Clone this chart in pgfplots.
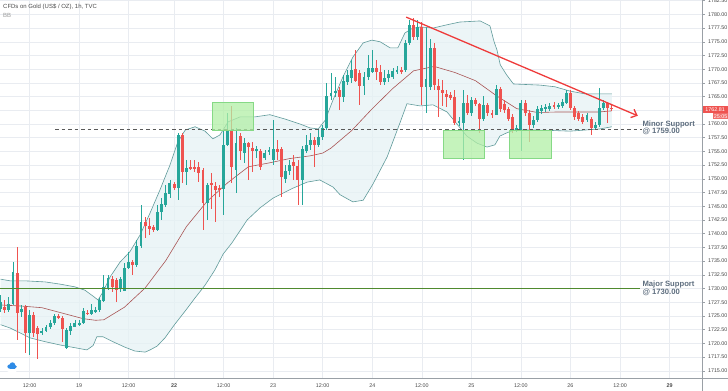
\documentclass[border=0pt]{standalone}
\usepackage{pgfplots}
\pgfplotsset{compat=1.18}
\usepackage{pgfplotstable}
\usepgfplotslibrary{fillbetween}
\usetikzlibrary{arrows.meta}
\usepackage{fontspec}
\setmainfont{Liberation Sans}
\definecolor{upc}{HTML}{26A69A}
\definecolor{downc}{HTML}{EF5350}
\definecolor{bandc}{HTML}{5F9A9A}
\definecolor{midc}{HTML}{A85454}
\definecolor{bandfill}{HTML}{E6F2F4}
\definecolor{gridc}{HTML}{E9ECF1}
\definecolor{axisc}{HTML}{9AA0A6}
\definecolor{labc}{HTML}{4A4A4A}
\definecolor{supc}{HTML}{5D6D7E}
\definecolor{majc}{HTML}{4F8A2E}
\definecolor{trendc}{HTML}{EE3B3B}
\definecolor{boxg}{HTML}{B2EFA6}
\definecolor{boxgb}{HTML}{86D986}
\definecolor{tvblue}{HTML}{2E8BE6}

\pgfplotstableread{
i o h l c
0 1726.3 1728.8 1725.7 1727.5
1 1726.7 1727.9 1725.5 1726.0
2 1726.1 1728.5 1725.7 1727.2
3 1727.2 1734.9 1727.0 1733.1
4 1732.8 1737.6 1720.6 1725.6
5 1725.7 1727.0 1724.8 1726.3
6 1726.6 1727.0 1718.2 1721.9
7 1721.9 1726.1 1717.9 1725.2
8 1725.2 1725.7 1721.2 1721.9
9 1722.8 1723.2 1717.2 1721.7
10 1721.8 1722.8 1721.5 1722.3
11 1722.3 1723.3 1722.1 1723.0
12 1722.9 1724.3 1722.6 1723.8
13 1723.8 1725.4 1723.3 1725.0
14 1725.0 1725.4 1724.5 1724.7
15 1724.6 1725.0 1720.3 1722.7
16 1719.1 1722.8 1718.9 1722.4
17 1722.3 1723.7 1721.5 1723.2
18 1723.0 1724.3 1722.9 1723.7
19 1723.4 1724.3 1723.2 1723.8
20 1723.7 1726.5 1723.5 1725.9
21 1725.6 1726.1 1725.2 1725.3
22 1725.3 1727.2 1725.2 1726.0
23 1725.8 1726.6 1725.6 1726.1
24 1726.0 1728.3 1725.8 1727.9
25 1727.7 1732.5 1727.6 1730.2
26 1730.0 1732.5 1729.7 1731.9
27 1731.7 1732.2 1729.4 1730.2
28 1731.5 1731.9 1727.6 1729.7
29 1729.9 1732.1 1729.4 1731.7
30 1729.6 1734.6 1729.5 1733.8
31 1733.7 1736.7 1733.6 1734.9
32 1734.9 1735.2 1732.5 1734.3
33 1734.3 1738.9 1734.0 1737.8
34 1737.7 1745.2 1737.4 1742.2
35 1742.1 1743.1 1739.2 1741.4
36 1741.4 1742.9 1739.8 1740.8
37 1741.2 1741.6 1740.3 1740.7
38 1740.7 1745.2 1740.4 1744.0
39 1743.9 1746.5 1742.5 1745.4
40 1745.2 1748.9 1744.9 1747.4
41 1747.2 1749.8 1746.5 1749.3
42 1749.0 1749.5 1748.0 1748.4
43 1748.4 1758.3 1746.1 1758.0
44 1758.0 1758.3 1749.2 1751.3
45 1751.2 1753.4 1748.9 1751.9
46 1752.2 1753.4 1751.6 1751.9
47 1752.2 1753.4 1751.3 1751.9
48 1752.2 1753.1 1749.5 1751.0
49 1751.6 1752.0 1740.7 1745.6
50 1745.6 1749.2 1742.5 1748.9
51 1749.2 1751.0 1744.6 1748.9
52 1748.7 1749.5 1742.2 1748.0
53 1748.3 1748.9 1746.7 1748.0
54 1748.1 1758.9 1743.4 1756.2
55 1756.2 1762.0 1756.0 1759.0
56 1759.0 1763.3 1749.2 1752.2
57 1751.7 1759.2 1747.4 1756.6
58 1757.8 1758.3 1753.4 1755.0
59 1754.7 1757.4 1752.8 1756.5
60 1756.5 1756.8 1749.8 1755.8
61 1755.6 1756.8 1751.3 1755.1
62 1755.0 1756.0 1753.8 1755.4
63 1755.0 1755.5 1751.6 1752.2
64 1753.9 1755.3 1753.4 1754.7
65 1754.9 1755.8 1754.4 1755.3
66 1753.4 1760.7 1752.5 1755.4
67 1755.4 1757.1 1753.4 1754.9
68 1755.4 1755.8 1746.7 1750.3
69 1749.9 1752.5 1749.2 1751.5
70 1751.5 1753.4 1750.7 1752.5
71 1753.1 1754.4 1749.8 1752.3
72 1752.3 1753.4 1745.2 1749.8
73 1749.8 1756.0 1745.2 1755.4
74 1755.1 1758.0 1754.7 1756.2
75 1756.2 1758.4 1755.3 1757.1
76 1757.1 1757.6 1752.2 1756.2
77 1756.2 1758.9 1755.8 1757.6
78 1757.7 1759.8 1757.1 1759.2
79 1759.2 1767.5 1758.9 1765.1
80 1765.1 1769.3 1764.4 1765.7
81 1765.6 1768.6 1764.9 1766.0
82 1766.2 1766.8 1762.6 1764.9
83 1765.0 1768.9 1764.0 1767.9
84 1767.7 1769.9 1767.1 1768.9
85 1768.4 1771.7 1767.5 1769.9
86 1770.0 1773.5 1767.7 1767.9
87 1769.4 1769.9 1763.5 1766.9
88 1766.9 1769.5 1765.3 1768.6
89 1768.5 1772.6 1768.0 1770.2
90 1769.5 1773.5 1769.3 1770.2
91 1770.2 1771.7 1768.0 1769.5
92 1769.5 1770.8 1767.1 1767.7
93 1767.7 1769.9 1767.1 1768.4
94 1768.4 1769.9 1767.7 1769.1
95 1768.6 1770.2 1768.2 1769.7
96 1769.5 1770.6 1769.1 1769.9
97 1769.9 1770.4 1769.1 1769.5
98 1769.9 1775.3 1769.5 1774.7
99 1774.7 1779.0 1774.4 1778.1
100 1778.1 1779.3 1775.3 1775.9
101 1775.9 1779.0 1775.3 1777.7
102 1777.7 1778.6 1763.5 1766.7
103 1766.7 1777.5 1762.0 1768.3
104 1766.8 1775.6 1766.2 1773.8
105 1773.8 1774.7 1766.2 1767.1
106 1766.9 1768.3 1761.3 1766.3
107 1766.2 1768.0 1763.2 1765.6
108 1765.5 1766.2 1763.1 1764.9
109 1765.3 1765.8 1764.4 1764.7
110 1764.9 1766.2 1759.8 1760.1
111 1760.1 1761.3 1759.6 1760.6
112 1760.2 1766.2 1753.4 1763.9
113 1763.9 1765.3 1761.6 1762.0
114 1762.0 1764.9 1761.5 1764.3
115 1764.3 1764.7 1763.3 1763.7
116 1763.7 1763.8 1758.3 1761.0
117 1761.0 1765.1 1760.6 1763.5
118 1763.5 1763.8 1761.5 1762.0
119 1762.0 1762.6 1761.1 1761.6
120 1761.6 1767.1 1761.6 1766.3
121 1766.3 1766.8 1762.2 1762.7
122 1763.6 1764.3 1762.0 1762.6
123 1762.7 1763.1 1760.6 1761.0
124 1761.3 1761.8 1758.4 1759.0
125 1758.9 1759.8 1758.5 1759.2
126 1759.0 1764.4 1755.0 1763.9
127 1763.9 1764.4 1761.5 1762.0
128 1762.0 1762.6 1756.8 1759.8
129 1759.8 1761.5 1759.3 1760.7
130 1760.7 1763.3 1760.4 1762.7
131 1762.3 1763.5 1761.8 1762.9
132 1762.7 1763.7 1762.2 1763.1
133 1762.7 1763.8 1762.4 1763.3
134 1763.5 1764.0 1762.7 1763.2
135 1763.2 1763.8 1762.8 1763.5
136 1763.3 1764.6 1762.9 1764.1
137 1763.9 1766.2 1763.7 1765.7
138 1765.7 1766.2 1762.6 1762.9
139 1762.9 1763.3 1760.7 1761.2
140 1762.0 1762.4 1760.6 1761.0
141 1761.3 1761.8 1760.0 1760.4
142 1760.7 1762.0 1760.4 1761.6
143 1760.9 1761.3 1758.0 1759.3
144 1759.3 1760.3 1759.0 1759.8
145 1759.8 1766.5 1759.5 1763.0
146 1763.0 1764.4 1762.6 1763.9
147 1763.9 1764.1 1760.2 1763.0
148 1763.0 1763.6 1762.4 1762.8
}\candles

\begin{document}
\begin{tikzpicture}
\begin{axis}[
  set layers,
  width=702bp, height=378bp, scale only axis,
  xmin=-0.15, xmax=169.85, ymin=1713.68, ymax=1782.62,
  clip=false,
  axis line style={draw=none},
  xtick={7,19,31,42,54,66,78,90,102,114,126,138,150,162},
  xticklabels={12:00,19,12:00,\textbf{22},12:00,23,12:00,24,12:00,25,12:00,26,12:00,\textbf{29}},
  ytick={1715,1717.5,1720,1722.5,1725,1727.5,1730,1732.5,1735,1737.5,1740,1742.5,1745,1747.5,1750,1752.5,1755,1757.5,1760,1765,1767.5,1770,1772.5,1775,1777.5,1780,1782.5},
  extra y ticks={1762.5}, extra y tick labels={},
  yticklabel pos=right, ytick pos=right,
  tick align=outside,
  major tick length=2.5bp,
  xtick style={draw=none},
  ytick style={draw=axisc, line width=0.5bp},
  grid=major, grid style={draw=gridc, line width=0.5bp},
  extra y tick style={grid=major, grid style={draw=gridc, line width=0.5bp}},
  scaled y ticks=false,
  yticklabel style={font=\fontsize{5.4}{6}\selectfont, text=labc, /pgf/number format/.cd, fixed, fixed zerofill, precision=2, 1000 sep={}, assume math mode=true},
  xticklabel style={font=\fontsize{5.4}{6}\selectfont, text=labc},
]
\coordinate (bl) at (rel axis cs:0,0);
\coordinate (tr) at (rel axis cs:1,1);

% Bollinger bands
\addplot[name path=up, draw=bandc, line width=0.6bp, forget plot] coordinates {
(0,1731.7) (2.3,1731.4) (5.9,1731.4) (10.8,1731.2) (14.4,1730.8) (18.0,1730.3) (20.4,1729.7) (22.4,1728.6) (23.6,1727.9) (24.8,1729.4) (26.5,1732.1) (28.9,1734.8) (31.3,1736.7) (33.8,1739.8) (36.2,1743.8) (38.6,1748.0) (41.0,1752.5) (42.9,1756.7) (44.7,1758.9) (47.1,1759.5) (49.5,1758.7) (51.4,1757.3) (53.1,1758.0) (55.1,1760.4) (58.0,1761.3) (61.6,1761.3) (65.2,1761.7) (68.9,1760.9) (72.5,1760.0) (74.9,1759.3) (76.9,1759.1) (78.6,1760.7) (80.5,1764.4) (82.9,1768.6) (85.3,1772.2) (87.8,1774.8) (89.9,1775.3) (91.9,1775.0) (94.3,1773.9) (96.2,1773.9) (97.9,1776.6) (99.6,1777.4) (101.6,1777.7) (104.7,1777.5) (108.1,1778.1) (111.2,1778.6) (116.1,1778.8) (118.5,1777.9) (119.5,1775.0) (120.2,1773.5) (121.0,1770.8) (122.5,1769.0) (124.2,1767.3) (130.6,1767.1) (134.2,1766.8) (137.9,1766.0) (141.5,1765.5) (148.0,1765.5)
};
\addplot[name path=lo, draw=bandc, line width=0.6bp, forget plot] coordinates {
(0,1723.4) (2.3,1722.8) (4.7,1721.9) (7.1,1721.0) (10.8,1720.3) (14.4,1719.7) (18.0,1719.2) (20.9,1718.8) (22.4,1719.6) (23.3,1721.2) (24.8,1721.2) (27.2,1720.3) (30.1,1719.3) (32.5,1718.6) (35.0,1718.4) (36.2,1718.8) (37.9,1719.5) (39.8,1721.0) (42.2,1723.5) (44.7,1725.9) (47.1,1728.3) (49.5,1730.6) (51.9,1733.4) (53.9,1736.3) (56.0,1738.3) (59.7,1742.5) (62.8,1744.7) (66.0,1746.5) (70.8,1748.3) (74.2,1749.4) (77.3,1749.8) (80.5,1748.5) (82.2,1747.1) (85.3,1745.8) (87.8,1746.1) (90.2,1749.1) (93.6,1754.0) (96.7,1760.2) (98.4,1763.7) (101.6,1763.3) (104.7,1763.5) (108.1,1762.2) (110.5,1760.0) (112.9,1757.8) (115.4,1756.5) (117.8,1755.8) (119.7,1756.2) (120.9,1757.8) (122.6,1758.4) (124.5,1758.9) (130.6,1758.9) (137.9,1758.7) (145.1,1759.1) (148.0,1759.5)
};
\addplot[fill=bandfill, fill opacity=0.75, draw=none, forget plot] fill between[of=up and lo];
\addplot[draw=midc, line width=0.6bp, forget plot] coordinates {
(0,1727.0) (5,1726.8) (10,1726.5) (15,1725.5) (20,1724.5) (23,1724.2) (25,1724.3) (30,1726.6) (35,1730.1) (40,1735.1) (45,1741.3) (50,1745.9) (55,1749.3) (60,1752.2) (65,1752.9) (70,1753.7) (75,1754.2) (78,1754.7) (80,1755.6) (85,1758.8) (90,1762.8) (95,1766.5) (100,1769.7) (105,1770.5) (110,1769.4) (115,1767.9) (120,1765.2) (125,1762.8) (130,1762.1) (135,1762.2) (140,1762.2) (145,1762.2) (148,1762.4)
};

% candles: wicks and bodies
\addplot[draw=none, mark=none, forget plot,
  restrict expr to domain={\thisrow{c}-\thisrow{o}}{0.00001:1000},
  error bars/.cd, y dir=both, y explicit, error mark=none,
  error bar style={draw=upc, line width=0.8bp}]
  table[x=i, y expr={(\thisrow{h}+\thisrow{l})/2}, y error expr={(\thisrow{h}-\thisrow{l})/2}]{\candles};
\addplot[draw=none, mark=none, forget plot,
  restrict expr to domain={\thisrow{c}-\thisrow{o}}{-1000:0},
  error bars/.cd, y dir=both, y explicit, error mark=none,
  error bar style={draw=downc, line width=0.8bp}]
  table[x=i, y expr={(\thisrow{h}+\thisrow{l})/2}, y error expr={(\thisrow{h}-\thisrow{l})/2}]{\candles};
\addplot[draw=none, mark=none, forget plot,
  restrict expr to domain={\thisrow{c}-\thisrow{o}}{0.00001:1000},
  error bars/.cd, y dir=both, y explicit, error mark=none,
  error bar style={draw=upc, line width=2.9bp}]
  table[x=i, y expr={(\thisrow{o}+\thisrow{c})/2}, y error expr={max(abs(\thisrow{c}-\thisrow{o})/2,0.09)}]{\candles};
\addplot[draw=none, mark=none, forget plot,
  restrict expr to domain={\thisrow{c}-\thisrow{o}}{-1000:0},
  error bars/.cd, y dir=both, y explicit, error mark=none,
  error bar style={draw=downc, line width=2.9bp}]
  table[x=i, y expr={(\thisrow{o}+\thisrow{c})/2}, y error expr={max(abs(\thisrow{c}-\thisrow{o})/2,0.09)}]{\candles};

% support lines
\draw[majc, line width=1bp] (axis cs:-0.15,1730) -- (axis cs:154.8,1730);
\draw[black!65, line width=0.8bp, dash pattern=on 3.5bp off 3bp] (axis cs:13.2,1759) -- (axis cs:155.3,1759);

% green zones
\filldraw[fill=boxg, draw=boxgb, fill opacity=0.75, line width=0.5bp] (axis cs:51.2,1758.9) rectangle (axis cs:61.1,1764.0);
\filldraw[fill=boxg, draw=boxgb, fill opacity=0.75, line width=0.5bp] (axis cs:107.1,1753.75) rectangle (axis cs:117.0,1758.8);
\filldraw[fill=boxg, draw=boxgb, fill opacity=0.75, line width=0.5bp] (axis cs:123.1,1753.7) rectangle (axis cs:133.3,1758.9);

% trend line
\draw[trendc, line width=1.3bp, -{Straight Barb[length=5bp,width=9bp]}] (axis cs:98.2,1779.5) -- (axis cs:154.3,1761.5);

% labels
\node[anchor=west, inner sep=0, align=left, text=supc, font=\bfseries\fontsize{7.7}{7.8}\selectfont] at (axis cs:155.4,1759.3) {Minor Support\\@ 1759.00};
\node[anchor=west, inner sep=0, align=left, text=supc, font=\bfseries\fontsize{7.7}{7.8}\selectfont] at (axis cs:155.4,1730.0) {Major Support\\@ 1730.00};

\node[anchor=north west, inner sep=0, xshift=3bp, yshift=-4bp, text=labc, font=\fontsize{6}{7}\selectfont] at (rel axis cs:0,1) {CFDs on Gold (US\$ / OZ), 1h, TVC};
\node[anchor=north west, inner sep=0, xshift=3bp, yshift=-13.5bp, text=black!40, font=\fontsize{6}{7}\selectfont] at (rel axis cs:0,1) {BB};

% price boxes
\node[fill=downc, text=white, anchor=west, inner xsep=1.5bp, inner ysep=0.8bp, minimum width=26bp, minimum height=6.8bp, font=\fontsize{5.4}{6}\selectfont] (pb) at (axis cs:169.85,1762.7) {1762.81};
\node[fill=downc!85!white, text=white, anchor=north east, inner sep=0.8bp, minimum height=6bp, font=\fontsize{5.4}{6}\selectfont] at ([yshift=-0.4bp]pb.south east) {25:05};

% logo
\fill[white] (axis cs:2.76,1715.87) circle (7bp);
\fill[tvblue] ([xshift=-2.5bp,yshift=-0.6bp]axis cs:2.76,1715.87) circle (2.1bp);
\fill[tvblue] ([xshift=0.4bp,yshift=0.9bp]axis cs:2.76,1715.87) circle (2.8bp);
\fill[tvblue] ([xshift=3bp,yshift=-0.8bp]axis cs:2.76,1715.87) circle (1.9bp);
\fill[tvblue] ([xshift=-2.5bp,yshift=-2.7bp]axis cs:2.76,1715.87) rectangle ([xshift=3bp,yshift=-0.6bp]axis cs:2.76,1715.87);
\end{axis}
\path (bl -| tr) coordinate (br);
\draw[axisc, line width=0.6bp] (bl) -- ([xshift=26bp]br);
\draw[axisc, line width=0.6bp] (tr) -- ([yshift=-13bp]br);
\pgfresetboundingbox
\path ([yshift=-13bp]bl) rectangle ([xshift=26bp]tr);
\end{tikzpicture}
\end{document}
